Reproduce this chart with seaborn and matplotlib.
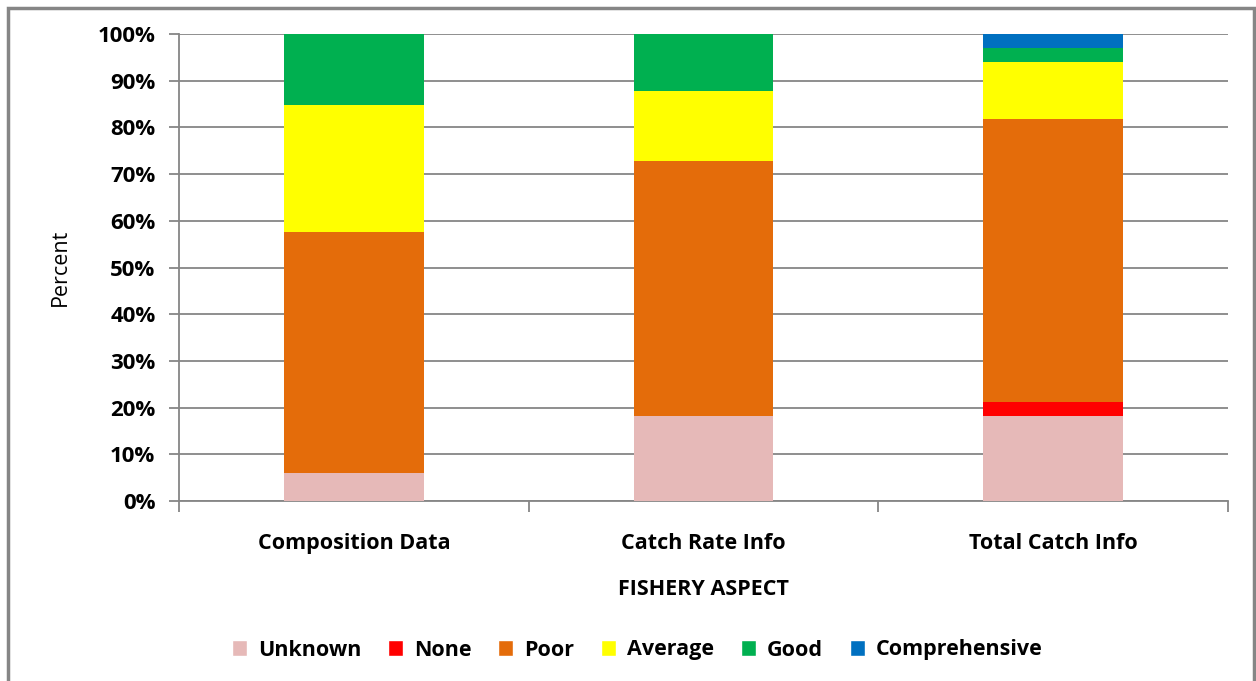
import pandas as pd
import seaborn as sns
import matplotlib.pyplot as plt
from matplotlib.patches import Rectangle, Patch

aspects = ["Composition Data", "Catch Rate Info", "Total Catch Info"]
levels = ["Unknown", "None", "Poor", "Average", "Good", "Comprehensive"]
unknown = [6.1, 18.2, 18.2]
none = [0.0, 0.0, 3.0]
poor = [51.5, 54.5, 60.6]
average = [27.3, 15.2, 12.1]
good = [15.1, 12.1, 3.0]
comprehensive = [0.0, 0.0, 3.1]
colors = ["#E6B9B8", "#FF0000", "#E46C0A", "#FFFF00", "#00B050", "#0070C0"]

sns.set_style("white")
plt.rcParams["font.family"] = ["Open Sans", "DejaVu Sans"]
plt.rcParams["text.color"] = "black"
plt.rcParams["axes.labelcolor"] = "black"
plt.rcParams["xtick.labelcolor"] = "black"
plt.rcParams["ytick.labelcolor"] = "black"

df = pd.DataFrame({"aspect": aspects, "Unknown": unknown, "None": none,
                   "Poor": poor, "Average": average, "Good": good,
                   "Comprehensive": comprehensive})
cum = df[levels].cumsum(axis=1)
cum["aspect"] = df["aspect"]

fig = plt.figure(figsize=(12.56, 6.81), dpi=100)
ax = fig.add_axes([179 / 1256, 1 - 501 / 681, (1228 - 179) / 1256, (501 - 34) / 681])

# draw the tallest cumulative first so lower segments sit on top
for lev, col in reversed(list(zip(levels, colors))):
    sns.barplot(data=cum, x="aspect", y=lev, order=aspects, color=col,
                width=0.4, saturation=1, linewidth=0, ax=ax, zorder=3)

ax.set_ylim(0, 100)
ax.set_xlim(-0.5, 2.5)
ax.set_yticks(range(0, 101, 10))
ax.set_yticklabels([f"{v}%" for v in range(0, 101, 10)], fontsize=16, fontweight="bold")
ax.yaxis.grid(True, color="#868686", linewidth=1.3, zorder=0)
ax.set_axisbelow(True)
ax.tick_params(axis="y", length=7, color="#868686", width=1.3, pad=10, left=True)
ax.set_xticks([0, 1, 2])
ax.set_xticklabels(aspects, fontsize=15.5, fontweight="bold")
ax.set_xticks([-0.5, 0.5, 1.5, 2.5], minor=True)
ax.tick_params(axis="x", which="major", length=0, pad=23)
ax.tick_params(axis="x", which="minor", length=8, color="#868686", width=1.3, bottom=True)
for s in ["top", "right"]:
    ax.spines[s].set_visible(False)
for s in ["left", "bottom"]:
    ax.spines[s].set_color("#868686")
    ax.spines[s].set_linewidth(1.3)
ax.set_xlabel("FISHERY ASPECT", fontsize=15.5, fontweight="bold", labelpad=18)
ax.set_ylabel("Percent", fontsize=15.5, labelpad=19)

handles = [Patch(facecolor=c, label=l) for l, c in zip(levels, colors)]
fig.legend(handles=handles, loc="center", bbox_to_anchor=(637 / 1256, 1 - 650 / 681),
           ncol=6, frameon=False, prop={"size": 15.5, "weight": "bold"},
           handlelength=0.7, handleheight=0.7, columnspacing=1.25, handletextpad=0.5)

fig.patches.append(Rectangle((8 / 1256, -0.02), (1254 - 8) / 1256, 1 - 8 / 681 + 0.02,
                             transform=fig.transFigure, fill=False,
                             edgecolor="#868686", linewidth=2.5))

fig.savefig("out.png", dpi=100)
